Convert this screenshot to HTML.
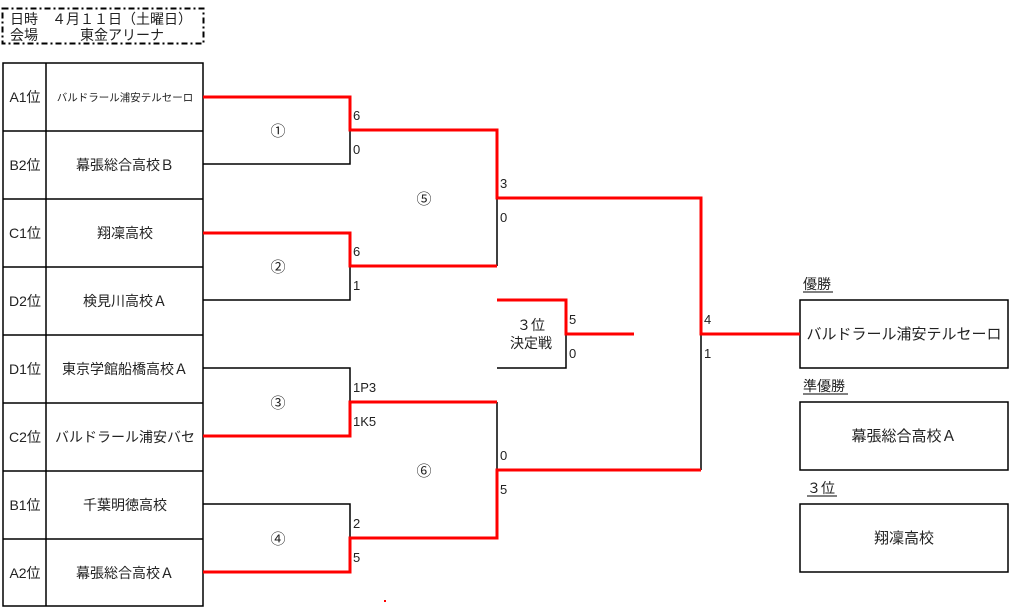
<!DOCTYPE html>
<html><head><meta charset="utf-8"><style>
html,body{margin:0;padding:0;background:#fff;}
svg{display:block;}
text{font-family:"Liberation Sans","Noto Sans CJK JP",sans-serif;fill:#222;}
</style></head><body>
<svg width="1012" height="615" viewBox="0 0 1012 615" xmlns="http://www.w3.org/2000/svg">
<rect x="2.5" y="8.5" width="201" height="35" fill="none" stroke="#000" stroke-width="2" stroke-dasharray="6,3,2,3"/>
<text x="10" y="24" font-size="14">日時　４月１１日（土曜日）</text>
<text x="10" y="40" font-size="14">会場　　　東金アリーナ</text>
<g stroke="#000" stroke-width="1.5" fill="none">
<rect x="3" y="63" width="200" height="543"/>
<line x1="46" y1="63" x2="46" y2="606"/>
<line x1="3" y1="131" x2="203" y2="131"/>
<line x1="3" y1="199" x2="203" y2="199"/>
<line x1="3" y1="267" x2="203" y2="267"/>
<line x1="3" y1="335" x2="203" y2="335"/>
<line x1="3" y1="403" x2="203" y2="403"/>
<line x1="3" y1="471" x2="203" y2="471"/>
<line x1="3" y1="539" x2="203" y2="539"/>
</g>
<g font-size="14" text-anchor="middle">
<text x="25" y="102">A1位</text>
<text x="25" y="170">B2位</text>
<text x="25" y="238">C1位</text>
<text x="25" y="306">D2位</text>
<text x="25" y="374">D1位</text>
<text x="25" y="442">C2位</text>
<text x="25" y="510">B1位</text>
<text x="25" y="578">A2位</text>
<text x="125" y="101" font-size="10.5">バルドラール浦安テルセーロ</text>
<text x="125" y="170">幕張総合高校Ｂ</text>
<text x="125" y="238">翔凜高校</text>
<text x="125" y="306">検見川高校Ａ</text>
<text x="125" y="374">東京学館船橋高校Ａ</text>
<text x="125" y="442">バルドラール浦安バセ</text>
<text x="125" y="510">千葉明徳高校</text>
<text x="125" y="578">幕張総合高校Ａ</text>
</g>
<g stroke="#000" stroke-width="1.5" fill="none">
<polyline points="203,164 350,164 350,130"/>
<polyline points="203,300 350,300 350,266"/>
<polyline points="203,368 350,368 350,402"/>
<polyline points="203,504 350,504 350,538"/>
<line x1="497" y1="198" x2="497" y2="266"/>
<line x1="497" y1="402" x2="497" y2="470"/>
<line x1="701" y1="334" x2="701" y2="470"/>
<polyline points="497,368 566,368 566,334"/>
<rect x="800" y="300" width="208" height="68"/>
<rect x="800" y="402" width="208" height="68"/>
<rect x="800" y="504" width="208" height="68"/>
</g>
<g stroke="#f00" stroke-width="3" fill="none">
<polyline points="203,97 350,97 350,130 497,130 497,198 701,198 701,334 800,334"/>
<polyline points="203,233 350,233 350,266 497,266"/>
<polyline points="203,436 350,436 350,402 497,402"/>
<polyline points="203,572 350,572 350,538 497,538 497,470 701,470"/>
<polyline points="497,300 566,300 566,334 634,334"/>
</g>
<g font-size="15" text-anchor="middle">
<text x="278" y="136">①</text>
<text x="278" y="272">②</text>
<text x="278" y="408">③</text>
<text x="278" y="544">④</text>
<text x="424" y="204">⑤</text>
<text x="424" y="476">⑥</text>
<text x="531" y="330" font-size="14">３位</text>
<text x="531" y="348" font-size="14">決定戦</text>
</g>
<g font-size="13">
<text x="353" y="120">6</text>
<text x="353" y="154">0</text>
<text x="353" y="256">6</text>
<text x="353" y="290">1</text>
<text x="353" y="392">1P3</text>
<text x="353" y="426">1K5</text>
<text x="353" y="528">2</text>
<text x="353" y="562">5</text>
<text x="500" y="188">3</text>
<text x="500" y="222">0</text>
<text x="500" y="460">0</text>
<text x="500" y="494">5</text>
<text x="569" y="324">5</text>
<text x="569" y="358">0</text>
<text x="704" y="324">4</text>
<text x="704" y="358">1</text>
</g>
<g font-size="14">
<text x="803" y="289">優勝</text>
<line x1="803" y1="292" x2="833" y2="292" stroke="#000" stroke-width="1"/>
<text x="803" y="391">準優勝</text>
<line x1="803" y1="394" x2="848" y2="394" stroke="#000" stroke-width="1"/>
<text x="807" y="493">３位</text>
<line x1="807" y1="496" x2="837" y2="496" stroke="#000" stroke-width="1"/>
</g>
<g font-size="15" text-anchor="middle">
<text x="904" y="339">バルドラール浦安テルセーロ</text>
<text x="904" y="441">幕張総合高校Ａ</text>
<text x="904" y="543">翔凜高校</text>
</g>
<rect x="384" y="600" width="2" height="2" fill="#f00"/>
</svg>
</body></html>
